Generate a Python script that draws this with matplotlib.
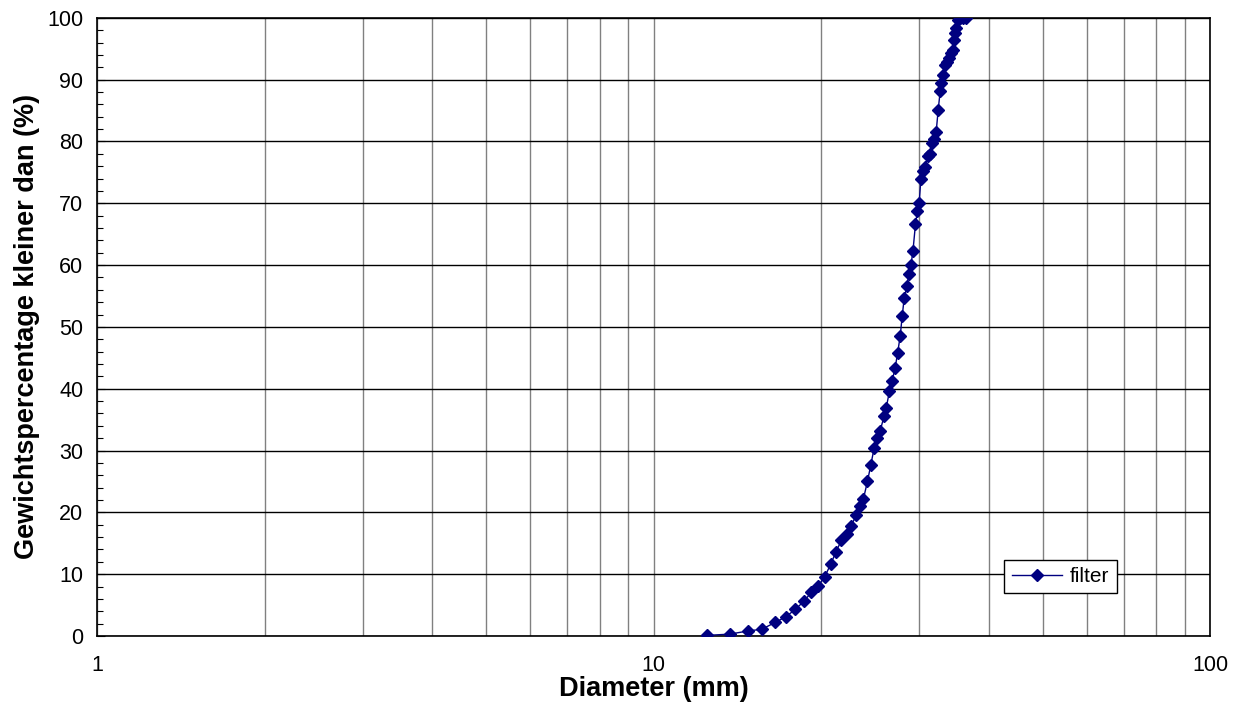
import numpy as np
import matplotlib.pyplot as plt
from matplotlib.ticker import LogLocator, MultipleLocator, FixedLocator

plt.rcParams['font.family'] = ['Liberation Sans', 'DejaVu Sans']

# sieve curve
diam = [12.46, 13.69, 14.75, 15.65, 16.54, 17.28, 17.96, 18.62, 19.21, 19.75,
        20.30, 20.82, 21.26, 21.75, 22.25, 22.62, 23.12, 23.44, 23.82, 24.22,
        24.56, 24.90, 25.24, 25.53, 25.95, 26.17, 26.53, 26.83, 27.16, 27.43,
        27.73, 27.96, 28.19, 28.51, 28.75, 28.99, 29.23, 29.54, 29.79, 30.00,
        30.21, 30.46, 30.67, 31.14, 31.31, 31.65, 31.83, 32.18, 32.45, 32.72,
        32.81, 33.09, 33.41, 33.64, 33.87, 34.21, 34.50, 34.67, 34.85, 34.96,
        35.29, 35.54, 36.03, 36.44]
perc = [0.1, 0.3, 0.8, 1.1, 2.2, 3.1, 4.3, 5.6, 7.1, 8.1,
        9.6, 11.7, 13.6, 15.5, 16.5, 17.8, 19.5, 21.0, 22.2, 25.0,
        27.7, 30.4, 32.0, 33.2, 35.6, 36.9, 39.6, 41.3, 43.4, 45.7,
        48.5, 51.7, 54.6, 56.6, 58.6, 60.0, 62.2, 66.6, 68.8, 70.1,
        73.9, 75.3, 75.8, 77.7, 78.0, 79.8, 80.4, 81.5, 85.1, 88.1,
        89.5, 90.8, 92.4, 92.9, 93.5, 94.3, 94.8, 96.4, 97.5, 98.3,
        99.7, 100.0, 100.0, 100.0]

fig = plt.figure(figsize=(12.41, 7.13), dpi=100)
ax = fig.add_axes([0.0782, 0.108, 0.897, 0.867])

ax.plot(diam, perc, color='#000080', marker='D', markersize=6.5, lw=1,
        label='filter', zorder=3)

ax.set_xscale('log')
ax.set_xlim(1, 100)
ax.set_ylim(0, 100)
ax.xaxis.set_major_locator(FixedLocator([1, 10, 100]))
ax.xaxis.set_major_formatter(plt.FuncFormatter(lambda v, p: '%g' % v))
ax.xaxis.set_minor_locator(LogLocator(base=10, subs=np.arange(2, 10)))
ax.xaxis.set_minor_formatter(plt.NullFormatter())
ax.yaxis.set_major_locator(MultipleLocator(10))
ax.yaxis.set_minor_locator(MultipleLocator(2))

ax.grid(True, which='major', axis='y', color='black', lw=1)
ax.grid(True, which='both', axis='x', color='#808080', lw=1)
ax.set_axisbelow(True)

ax.tick_params(axis='both', which='both', direction='in', labelsize=15.5,
               top=False, right=False)
ax.tick_params(axis='y', which='major', length=6, pad=10)
ax.tick_params(axis='y', which='minor', length=4, width=0.8)
ax.tick_params(axis='x', which='both', length=0, pad=14)

for s in ax.spines.values():
    s.set_linewidth(1.2)
    s.set_color('black')

ax.set_xlabel('Diameter (mm)', fontsize=19.5, fontweight='bold', labelpad=0)
ax.set_ylabel('Gewichtspercentage kleiner dan (%)', fontsize=19.5,
              fontweight='bold', labelpad=5)

leg = ax.legend(loc='lower left', bbox_to_anchor=(0.815, 0.069), fontsize=15,
                fancybox=False, framealpha=1, edgecolor='black',
                handlelength=2.4, handletextpad=0.4, borderpad=0.35,
                borderaxespad=0)
leg.get_frame().set_linewidth(1)

fig.savefig('out.png', dpi=100)
